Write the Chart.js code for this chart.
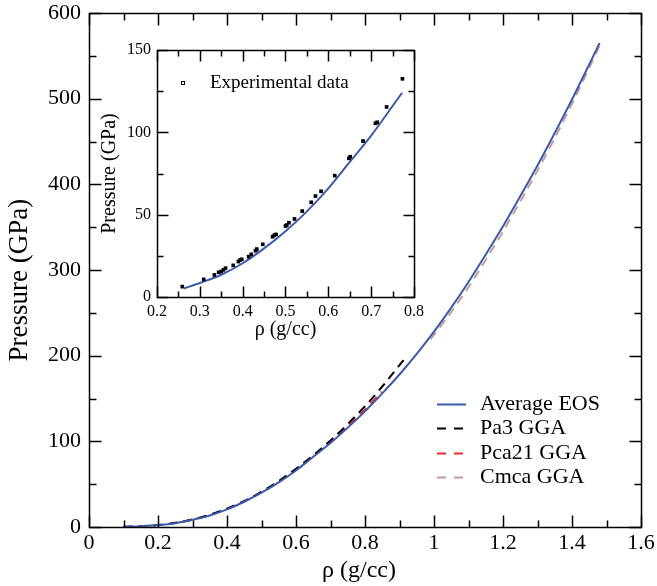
<!DOCTYPE html>
<html>
<head>
<meta charset="utf-8">
<script src="https://cdn.jsdelivr.net/npm/chart.js@4/dist/chart.umd.min.js"></script>
<style>
  html, body { margin:0; padding:0; background:#fff; }
  #wrap { position:relative; width:657px; height:586px; }
  #main { position:absolute; left:0; top:0; }
  #inset { position:absolute; left:95px; top:40px; }
</style>
</head>
<body>
<div id="wrap">
  <canvas id="main" width="657" height="586"></canvas>
  <canvas id="inset" width="330" height="300"></canvas>
</div>
<script>
// ---------- data ----------
const avgRho = [0.10,0.15,0.20,0.25,0.30,0.35,0.40,0.45,0.50,0.55,0.60,0.65,0.70,0.75,0.80,0.85,0.90,0.95,1.00,1.05,1.10,1.15,1.20,1.25,1.30,1.35,1.40,1.45,1.48];
const avgP   = [0.2,0.9,2.2,4.5,8.5,13.5,20.5,29.5,40,52,66,82,98,116,135,156,178,202,228,256,286,318,351,386,422,460,499,540,565];

const pa3Rho = [0.10,0.20,0.30,0.40,0.50,0.60,0.70,0.80,0.85,0.916];
const pa3P   = [0.2,2.2,8.8,21.5,41,68,101,141,164,197];

const pca21Rho = [0.10,0.20,0.30,0.40,0.50,0.60,0.70,0.80,0.848];
const pca21P   = [0.2,2.2,8.6,21,40.5,67,100,137,158];

const cmcaRho = [0.99,1.05,1.10,1.15,1.20,1.25,1.30,1.35,1.40,1.45,1.48];
const cmcaP   = [219,251,280,312,345,380,416,454,494,536,562];

const expRho = [0.259,0.309,0.334,0.344,0.350,0.355,0.360,0.378,0.390,0.394,0.398,0.414,0.420,0.430,0.433,0.447,0.470,0.474,0.478,0.500,0.503,0.508,0.521,0.539,0.560,0.570,0.583,0.615,0.648,0.651,0.681,0.710,0.714,0.736,0.773];
const expP   = [6.3,10.7,13.4,15,15.5,16.5,17.5,19.2,21.5,22.5,22.9,24.5,25.9,28.1,29.1,32,36.6,37.6,38,43.1,43.7,45.1,47.4,52.2,57.5,61.3,64.2,73.7,84.2,85.2,94.7,105.5,106.1,115.4,132.5];

const insetRho = [0.263,0.30,0.35,0.40,0.45,0.50,0.55,0.60,0.65,0.70,0.75,0.772];
const insetP   = [5.2,8.5,13.5,20.5,29.5,40,52,66,82,98,116,124];

const mainXTicks = [0,0.2,0.4,0.6,0.8,1.0,1.2,1.4,1.6];
const mainYTicks = [0,100,200,300,400,500,600];
const insetXTicks = [0.2,0.3,0.4,0.5,0.6,0.7,0.8];
const insetYTicks = [0,50,100,150];

const seriesNames = ['Average EOS','Pa3 GGA','Pca21 GGA','Cmca GGA'];
const expName = 'Experimental data';

// ---------- helpers ----------
const FAM = '"Liberation Serif", "Times New Roman", serif';
const NB = '\u00A0';
const pts = (xs, ys) => xs.map((x,i)=>({x, y: ys[i]}));
const fmt = v => String(+(+v).toFixed(2));
const noPad = s => { s.paddingLeft = 0; s.paddingRight = 0; s.paddingTop = 0; s.paddingBottom = 0; };

const inTicks = {
  id: 'inTicks',
  afterDatasetsDraw(chart, args, o) {
    const {ctx, chartArea:a, scales:{x, y}} = chart;
    ctx.save();
    ctx.strokeStyle = '#000';
    ctx.lineWidth = o.lw;
    const L = Math.round(a.left)+0.5, R = Math.round(a.right)+0.5, T = Math.round(a.top)+0.5, B = Math.round(a.bottom)+0.5;
    ctx.beginPath();
    const mk = (arr) => {
      const out = [];
      for (let i=0;i<arr.length;i++){
        out.push([arr[i], true]);
        if (i < arr.length-1) out.push([(arr[i]+arr[i+1])/2, false]);
      }
      return out;
    };
    mk(o.xTicks).forEach(([v, major]) => {
      const px = Math.round(x.getPixelForValue(v))+0.5;
      const len = major ? o.major : o.minor;
      ctx.moveTo(px, B); ctx.lineTo(px, B-len);
      ctx.moveTo(px, T); ctx.lineTo(px, T+len);
    });
    mk(o.yTicks).forEach(([v, major]) => {
      const py = Math.round(y.getPixelForValue(v))+0.5;
      const len = major ? o.major : o.minor;
      ctx.moveTo(L, py); ctx.lineTo(L+len, py);
      ctx.moveTo(R, py); ctx.lineTo(R-len, py);
    });
    ctx.stroke();
    ctx.strokeRect(L, T, R-L, B-T);
    ctx.restore();
  }
};

const boxLegend = {
  id: 'boxLegend',
  afterDatasetsDraw(chart, args, o) {
    if (!o.show) return;
    const {ctx} = chart;
    ctx.save();
    ctx.font = o.size + 'px ' + FAM;
    ctx.textBaseline = 'middle';
    ctx.fillStyle = '#000';
    chart.data.datasets.forEach((ds, i) => {
      const yy = Math.round(o.y0 + i*o.dy) + 0.5;
      ctx.strokeStyle = ds.borderColor;
      ctx.lineWidth = ds.borderWidth;
      ctx.setLineDash(ds.borderDash && ds.borderDash.length ? [9,8] : []);
      ctx.beginPath();
      ctx.moveTo(o.x0, yy); ctx.lineTo(o.x1, yy);
      ctx.stroke();
      ctx.setLineDash([]);
      ctx.fillText(ds.label, o.tx, yy);
    });
    ctx.restore();
  }
};

const lineDs = (label, xs, ys, color, dash) => ({
  label, data: pts(xs, ys), showLine: true, borderColor: color, backgroundColor: color,
  borderWidth: 2, borderDash: dash, pointRadius: 0, cubicInterpolationMode: 'monotone', fill: false
});

// ---------- main chart ----------
new Chart(document.getElementById('main'), {
  type: 'scatter',
  data: {
    datasets: [
      lineDs(seriesNames[0], avgRho, avgP, '#3a5aad', []),
      lineDs(seriesNames[1], pa3Rho, pa3P, '#000000', [9,6]),
      lineDs(seriesNames[2], pca21Rho, pca21P, '#ee2a2f', [9,6]),
      lineDs(seriesNames[3], cmcaRho, cmcaP, '#c79b9b', [9,6])
    ]
  },
  options: {
    responsive: false, animation: false, devicePixelRatio: 1,
    layout: { padding: { left: 0, right: 16, top: 13, bottom: 0 } },
    plugins: {
      legend: { display: false }, tooltip: { enabled: false },
      inTicks: { xTicks: mainXTicks, yTicks: mainYTicks, major: 12, minor: 7, lw: 1.5 },
      boxLegend: { show: true, x0: 437, x1: 466, tx: 480, y0: 404, dy: 24.3, size: 22 }
    },
    scales: {
      x: {
        type: 'linear', min: 0, max: 1.6,
        afterBuildTicks: s => { s.ticks = mainXTicks.map(v => ({value: v})); },
        afterFit: s => { s.height = 59; noPad(s); },
        grid: { display: false, drawTicks: false }, border: { display: false },
        ticks: { color: '#000', font: { family: FAM, size: 22 }, padding: 3, maxRotation: 0, autoSkip: false, callback: v => fmt(v) },
        title: { display: true, text: 'ρ (g/cc)' + NB + NB, color: '#000', font: { family: FAM, size: 24, lineHeight: 1 }, padding: { top: 0, bottom: 3 } }
      },
      y: {
        type: 'linear', min: 0, max: 600,
        afterBuildTicks: s => { s.ticks = mainYTicks.map(v => ({value: v})); },
        afterFit: s => { s.width = 89; noPad(s); },
        grid: { display: false, drawTicks: false }, border: { display: false },
        ticks: { color: '#000', font: { family: FAM, size: 22 }, padding: 8, autoSkip: false, callback: v => fmt(v) },
        title: { display: true, text: 'Pressure (GPa)' + NB + NB + NB, color: '#000', font: { family: FAM, size: 27, lineHeight: 1 }, padding: { top: 6, bottom: 0 } }
      }
    }
  },
  plugins: [inTicks, boxLegend]
});

// ---------- inset chart ----------
new Chart(document.getElementById('inset'), {
  type: 'scatter',
  data: {
    datasets: [
      { label: expName, data: pts(expRho, expP), showLine: false, pointStyle: 'rect', pointRadius: 2.6,
        backgroundColor: '#000', borderColor: '#000', borderWidth: 0 },
      lineDs(seriesNames[0], insetRho, insetP, '#3a5aad', [])
    ]
  },
  options: {
    responsive: false, animation: false, devicePixelRatio: 1,
    layout: { padding: { left: 0, right: 11, top: 10, bottom: 0 } },
    plugins: {
      legend: { display: false }, tooltip: { enabled: false },
      inTicks: { xTicks: insetXTicks, yTicks: insetYTicks, major: 11, minor: 6, lw: 1.5 },
      boxLegend: { show: false }
    },
    scales: {
      x: {
        type: 'linear', min: 0.2, max: 0.8,
        afterBuildTicks: s => { s.ticks = insetXTicks.map(v => ({value: v})); },
        afterFit: s => { s.height = 43; noPad(s); },
        grid: { display: false, drawTicks: false }, border: { display: false },
        ticks: { color: '#000', font: { family: FAM, size: 16 }, padding: 5, maxRotation: 0, autoSkip: false, callback: v => fmt(v) },
        title: { display: true, text: 'ρ (g/cc)', color: '#000', font: { family: FAM, size: 20, lineHeight: 1 }, padding: { top: 0, bottom: 0 } }
      },
      y: {
        type: 'linear', min: 0, max: 150,
        afterBuildTicks: s => { s.ticks = insetYTicks.map(v => ({value: v})); },
        afterFit: s => { s.width = 62; noPad(s); },
        grid: { display: false, drawTicks: false }, border: { display: false },
        ticks: { color: '#000', font: { family: FAM, size: 16 }, padding: 6, autoSkip: false, callback: v => fmt(v) },
        title: { display: true, text: 'Pressure (GPa)', color: '#000', font: { family: FAM, size: 20, lineHeight: 1 }, padding: { top: 5, bottom: 0 } }
      }
    }
  },
  plugins: [inTicks, {
    id: 'insetLegend',
    afterDatasetsDraw(chart) {
      const {ctx} = chart;
      ctx.save();
      ctx.strokeStyle = '#000'; ctx.lineWidth = 1;
      ctx.strokeRect(86.5, 41.5, 3, 3);
      ctx.font = '19px ' + FAM; ctx.fillStyle = '#000'; ctx.textBaseline = 'middle';
      ctx.fillText(chart.data.datasets[0].label, 115, 43);
      ctx.restore();
    }
  }]
});
</script>
</body>
</html>
